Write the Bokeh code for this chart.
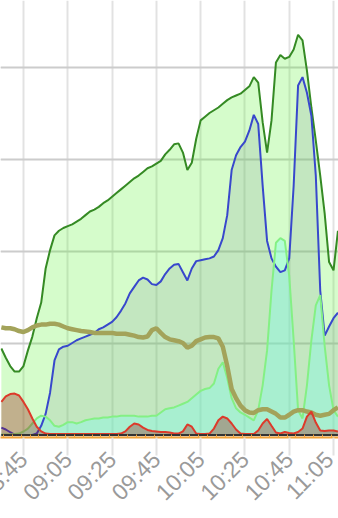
import math
import pandas as pd
from bokeh.plotting import figure
from bokeh.models import Range1d, FixedTicker, DatetimeTickFormatter, Grid, ColumnDataSource
from bokeh.embed import file_html
from bokeh.resources import INLINE

# ---- data (2-minute samples starting 08:35) ----
start_time = "2024-01-01 08:35"
n_points = 77
series_green = [94, 84, 75, 69, 69, 75, 92, 107, 127, 144,
                181, 201, 217, 222, 225, 227, 229, 232, 235, 239,
                243, 245, 248, 252, 255, 259, 263, 267, 271, 275,
                279, 282, 286, 290, 292, 295, 298, 305, 310, 316,
                317, 307, 288, 296, 322, 342, 346, 350, 353, 356,
                360, 364, 367, 369, 371, 375, 379, 389, 383, 340,
                307, 342, 405, 413, 409, 411, 419, 435, 429, 396,
                356, 320, 282, 241, 188, 179, 222]
series_blue = [8, 6, 3, 0.5, 0, 0, 0, 0, 1.6, 10,
               23, 46, 81, 93, 96, 97, 100, 103, 105, 107,
               109, 111, 115, 117, 120, 123, 128, 135, 143, 154,
               161, 168, 171, 169, 164, 163, 167, 175, 181, 185,
               186, 177, 168, 181, 189, 190, 191, 192, 194, 201,
               214, 239, 288, 304, 313, 319, 331, 348, 338, 271,
               211, 192, 183, 177, 179, 192, 271, 380, 389, 372,
               347, 282, 157, 108, 118, 127, 133]
series_mint = [0.5, 0.5, 0.5, 1, 1.6, 3.8, 7, 12.5, 18, 21,
               20, 16, 10, 9, 11, 14, 14, 12.5, 14, 16,
               17, 18, 18, 19, 19, 20, 20, 21, 21, 21,
               21, 20, 20, 20, 21, 21, 24.5, 28, 29, 30,
               32, 34, 36, 40, 44, 48, 50, 51, 56, 72,
               79, 62, 40, 29, 24.5, 22, 19, 16, 27, 54,
               92, 157, 209, 214, 211, 173, 103, 27, 18, 54,
               103, 141, 152, 97, 54, 27, 20]
series_olive = [117, 116, 116, 115, 113, 112, 114, 117, 119, 120,
                120, 121, 121, 120, 118, 116, 115, 114, 113, 112.5,
                112, 111, 111, 111, 111, 111, 110, 110, 110, 109,
                108, 106.5, 106, 107, 114, 116, 111, 106.5, 104, 103,
                102, 100, 95, 97, 102, 104, 106, 106.5, 106.5, 105,
                96, 75, 50, 40, 32, 27, 24.5, 24, 27, 28,
                28, 25.5, 23, 19, 19, 22, 25.5, 27, 27, 25.5,
                24.5, 22, 21, 22, 23, 27, 30]
series_red = [36, 42, 44.5, 45, 43, 36, 28, 18, 9, 4,
              1.6, 1.1, 1.1, 1.1, 1.1, 1.1, 1.1, 1.1, 1.1, 1.1,
              1.1, 1.1, 1.1, 1.1, 1.1, 1.1, 1.1, 1.6, 4, 9,
              12.5, 11.5, 8, 5.5, 4.3, 3.8, 3.3, 3.3, 2.7, 1.6,
              1.6, 4, 11.5, 9, 1.6, 1.1, 1.1, 1.6, 7, 16,
              20, 18, 12.5, 6, 1.6, 1.1, 1.1, 1.1, 5, 12.5,
              17.5, 10, 2.7, 1.6, 3.3, 2.2, 1.6, 3.3, 7, 20,
              25.5, 13.6, 5, 4.3, 5, 5, 3.8]
series_dark = [0] * n_points

tick_labels = ["08:45", "09:05", "09:25", "09:45", "10:05", "10:25", "10:45", "11:05"]
y_grid_values = [0, 100, 200, 300, 400]

times = pd.date_range(start_time, periods=n_points, freq="2min")
src = ColumnDataSource(dict(t=times, g=series_green, b=series_blue, m=series_mint,
                            o=series_olive, r=series_red, d=series_dark,
                            z=[0] * n_points))

def ms(ts):
    return pd.Timestamp(ts).value / 1e6

x_start = pd.Timestamp("2024-01-01 08:34:37")
x_end = pd.Timestamp("2024-01-01 11:07:15")
y_start, y_end = -2.7, 472.3

# the canvas reaches 40px to the left of the window so the first tick label is cut
# by the window edge (as in the reference) instead of being pushed inward
p = figure(width=378, height=518, output_backend="svg", toolbar_location=None,
           x_axis_type="datetime", y_axis_location=None,
           x_range=Range1d(x_start, x_end), y_range=Range1d(y_start, y_end),
           min_border_left=40, min_border_right=0, min_border_top=0, min_border_bottom=81)
p.styles = {"margin-left": "-40px"}
p.outline_line_color = None
p.background_fill_color = "white"
p.border_fill_color = "white"

major = [ms("2024-01-01 " + s) for s in tick_labels]
minor = [ms(x_start.floor("4min")) + i * 240000 for i in range(45)]
ticker = FixedTicker(ticks=major, minor_ticks=minor)
p.xaxis.ticker = ticker
p.xaxis.formatter = DatetimeTickFormatter(minutes="%H:%M", hourmin="%H:%M", hours="%H:%M",
                                          minsec="%H:%M", seconds="%H:%M")
p.xaxis.axis_line_color = "#f2a33a"
p.xaxis.axis_line_width = 2
p.xaxis.major_tick_line_color = "#e2e2e2"
p.xaxis.major_tick_line_width = 2
p.xaxis.major_tick_out = 18
p.xaxis.major_tick_in = 0
p.xaxis.minor_tick_line_color = "#f2a33a"
p.xaxis.minor_tick_in = 3
p.xaxis.minor_tick_out = 0
p.xaxis.major_label_orientation = math.pi / 4
p.xaxis.major_label_text_font = "Liberation Sans"
p.xaxis.major_label_text_font_size = "23px"
p.xaxis.major_label_text_color = "#9a9a9a"
p.xaxis.major_label_standoff = 0

p.xgrid.ticker = ticker
p.xgrid.grid_line_color = "#e2e2e2"
p.xgrid.grid_line_width = 2
yg = Grid(dimension=1, ticker=FixedTicker(ticks=y_grid_values),
          grid_line_color="#cccccc", grid_line_width=2)
p.add_layout(yg)

# areas
p.varea(x="t", y1="z", y2="g", source=src, fill_color=(87, 243, 47), fill_alpha=0.25)
p.varea(x="t", y1="z", y2="b", source=src, fill_color=(123, 152, 148), fill_alpha=0.2)
p.varea(x="t", y1="z", y2="m", source=src, fill_color=(118, 255, 238), fill_alpha=0.35)
# lines
p.line(x="t", y="g", source=src, line_color="#358a24", line_width=2)
p.line(x="t", y="b", source=src, line_color="#3848cc", line_width=2)
p.line(x="t", y="m", source=src, line_color="#84f084", line_width=2)
p.line(x="t", y="o", source=src, line_color="#a3a35a", line_width=4.5)
p.varea(x="t", y1="z", y2="r", source=src, fill_color=(150, 0, 0), fill_alpha=0.3)
p.line(x="t", y="r", source=src, line_color="#dd3a2a", line_width=2)
p.line(x="t", y="d", source=src, line_color="#333333", line_width=2)

open("out.html", "w").write(file_html(p, INLINE))
